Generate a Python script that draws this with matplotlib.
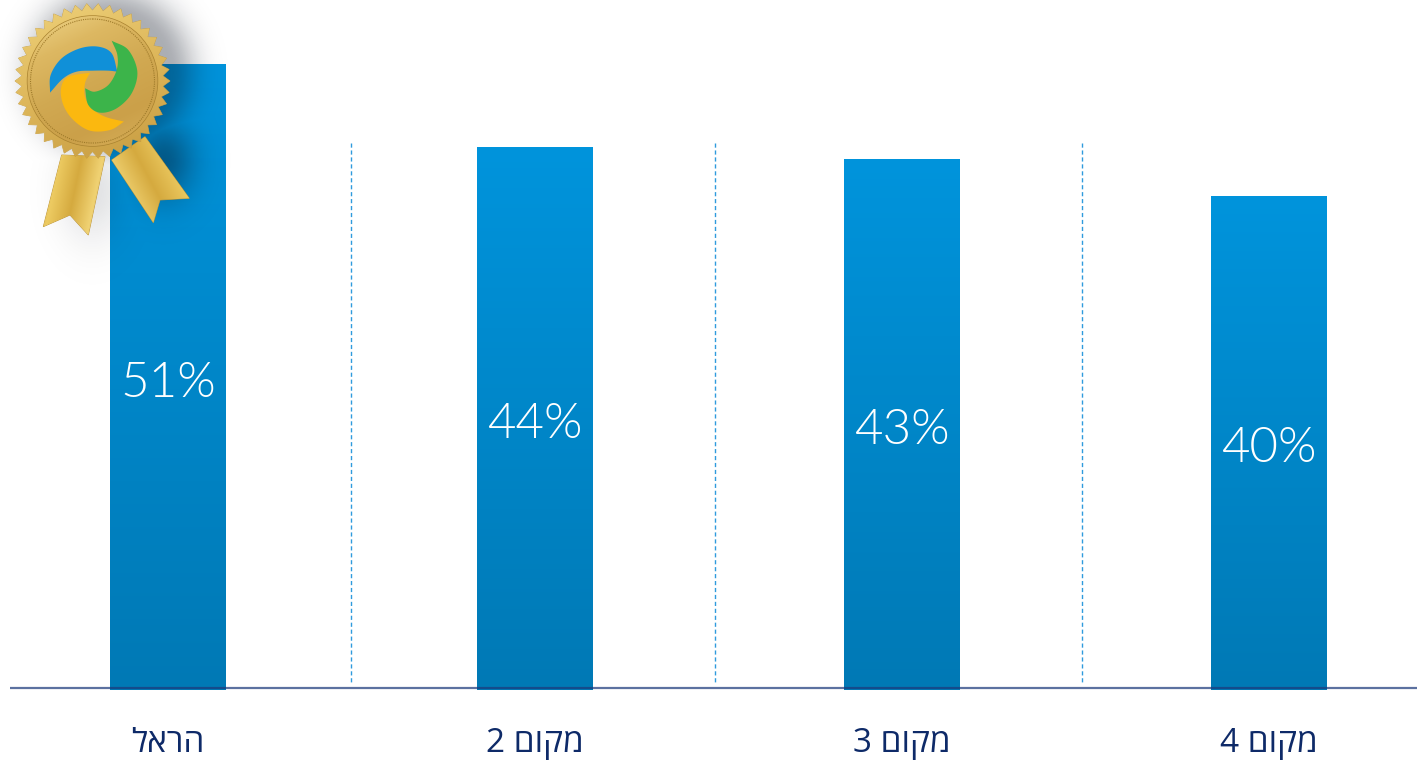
import numpy as np
import matplotlib
matplotlib.use("Agg")
import matplotlib.pyplot as plt
from matplotlib.colors import LinearSegmentedColormap
from matplotlib.patches import Circle, Polygon

categories = ["הראל", "מקום 2", "מקום 3", "מקום 4"]
values = [51.0, 44.25, 43.3, 40.3]
separators = [0.499, 1.491, 2.490]

W, H = 1417, 761
BASE_PX = 690
PX_PER_UNIT = 12.27


def visual(text):
    """matplotlib has no bidi: put Hebrew runs in visual order."""
    parts = text.split(" ")
    return " ".join(p[::-1] if not p.isdigit() else p for p in reversed(parts))


plt.rcParams["font.family"] = ["Open Sans", "Liberation Sans", "DejaVu Sans"]
fig = plt.figure(figsize=(W / 100, H / 100), dpi=100, facecolor="white")

ax = fig.add_axes([10 / W, (H - BASE_PX) / H, (W - 10) / W, BASE_PX / H])
for s in ("top", "left", "right", "bottom"):
    ax.spines[s].set_visible(False)
ax.patch.set_alpha(0)
ax.set_yticks([])
ax.set_xticks(range(len(categories)))
ax.set_xticklabels([visual(c) for c in categories], fontsize=24, color="#0E2A68",
                   family=["Open Sans", "Liberation Sans", "DejaVu Sans"])
ax.tick_params(axis="x", length=0, pad=27)

bar_cmap = LinearSegmentedColormap.from_list("bar", ["#0094DC", "#0079B5"])
grad = np.linspace(0, 1, 256).reshape(-1, 1)
bars = ax.bar(range(len(values)), values, width=116 / 367, color="none", zorder=2)
for bar, v in zip(bars, values):
    x0 = bar.get_x()
    im = ax.imshow(grad, cmap=bar_cmap, aspect="auto", zorder=2, interpolation="bilinear",
                   extent=(x0, x0 + bar.get_width(), 0, v))
    im.set_clip_path(bar)
    ax.text(bar.get_x() + bar.get_width() / 2, v / 2 - 0.5, f"{v:.0f}%", color="white",
            ha="center", va="center", fontsize=35.5, fontweight=300,
            family=["Lato", "DejaVu Sans"], zorder=5)
ax.set_xlim((10 - 168) / 367, (W - 168) / 367)
ax.set_ylim(0, BASE_PX / PX_PER_UNIT)

ax.vlines(separators, (BASE_PX - 143) / PX_PER_UNIT, (BASE_PX - 683) / PX_PER_UNIT,
          color="#2F9BDD", lw=1.0, linestyles=(0, (3, 2)), zorder=1)
ax.axhline(2 / PX_PER_UNIT, color="#1D3A7C", alpha=0.72, lw=1.6, zorder=4)

# ---------- medal decoration, in pixel coordinates ----------
ov = fig.add_axes([0, 0, 1, 1])
ov.axis("off")
ov.patch.set_alpha(0)

CX, CY = 92.5, 81.0
yy, xx = np.mgrid[0:330, 0:330]
d1 = np.hypot(xx - 110, yy - 72)
shadow = 0.34 * np.exp(-np.clip(d1 - 58, 0, None) ** 2 / (2 * 20.0 ** 2))
d2 = np.hypot((xx - 163), (yy - 160) / 1.25)
shadow = np.maximum(shadow, 0.42 * np.exp(-d2 ** 2 / (2 * 22.0 ** 2)))
d3 = np.hypot(xx - 92, (yy - 190) / 1.5)
shadow = np.maximum(shadow, 0.12 * np.exp(-d3 ** 2 / (2 * 24.0 ** 2)))
rgba = np.zeros(shadow.shape + (4,))
rgba[..., :3] = (0.03, 0.06, 0.12)
rgba[..., 3] = shadow
ov.imshow(rgba, extent=(0, 330, 330, 0), aspect="auto", zorder=1, interpolation="bilinear")

gold_cmap = LinearSegmentedColormap.from_list(
    "gold", ["#EFD68A", "#DDB862", "#D1A952", "#CBA049", "#D8B05A"])
ribbon_cmap = LinearSegmentedColormap.from_list(
    "ribbon", ["#C3982F", "#EDCB62", "#D5AA3F", "#F0D273", "#BF922D"])


def gold_fill(patch, cmap, box, angle, z):
    x0, x1, y0, y1 = box
    u, v = np.meshgrid(np.linspace(0, 1, 128), np.linspace(0, 1, 128))
    a = np.deg2rad(angle)
    g = u * np.cos(a) + v * np.sin(a)
    g = (g - g.min()) / (g.max() - g.min())
    ov.add_patch(patch)
    patch.set_zorder(z)
    im_ = ov.imshow(g, cmap=cmap, extent=(x0, x1, y1, y0), aspect="auto", zorder=z,
                    interpolation="bilinear")
    im_.set_clip_path(patch)


left_r = np.array([(185, 465), (315, 470), (265, 705), (210, 645), (130, 680)]) / 3
right_r = np.array([(335, 480), (435, 410), (568, 595), (480, 600), (460, 668)]) / 3
gold_fill(Polygon(left_r, closed=True, fc="none", ec="#B88E2E", lw=0.6),
          ribbon_cmap, (40, 108, 150, 238), 15, 3)
gold_fill(Polygon(right_r, closed=True, fc="none", ec="#B88E2E", lw=0.6),
          ribbon_cmap, (108, 192, 135, 225), 150, 3)

n_teeth = 42
ang = np.linspace(0, 2 * np.pi, 2 * n_teeth, endpoint=False)
rad = np.where(np.arange(2 * n_teeth) % 2 == 0, 77.5, 70.5)
star = np.c_[CX + rad * np.cos(ang), CY + rad * np.sin(ang)]
gold_fill(Polygon(star, closed=True, fc="none", ec="#C59C3E", lw=0.5),
          LinearSegmentedColormap.from_list("st", ["#EFD27A", "#DDB65A", "#C69B40"]),
          (14, 171, 3, 160), 70, 4)
gold_fill(Circle((CX, CY), 65, fc="none", ec="#A9822F", lw=1.0), gold_cmap,
          (27, 158, 15, 147), 65, 5)
ov.add_patch(Circle((CX, CY), 62, fc="none", ec="#9E7A2A", lw=0.8, ls=(0, (1, 1)), zorder=6))


def catmull(points, n=24):
    p = np.array(points, float)
    p = np.vstack([2 * p[0] - p[1], p, 2 * p[-1] - p[-2]])
    out = []
    for i in range(1, len(p) - 2):
        t = np.linspace(0, 1, n, endpoint=False)[:, None]
        out.append(0.5 * (2 * p[i] + (p[i + 1] - p[i - 1]) * t
                          + (2 * p[i - 1] - 5 * p[i] + 4 * p[i + 1] - p[i + 2]) * t ** 2
                          + (3 * p[i] - p[i - 1] - 3 * p[i + 1] + p[i + 2]) * t ** 3))
    return np.vstack(out + [p[-2][None]])


def swoosh(outer, inner, color):
    pts = np.vstack([catmull(outer), catmull(inner)]) / 3
    ov.add_patch(Polygon(pts, closed=True, fc=color, ec="none", zorder=7))


swoosh([(150, 278), (152, 225), (185, 175), (240, 145), (295, 140), (335, 160), (352, 215)],
       [(352, 215), (325, 212), (280, 212), (230, 215), (190, 235), (150, 278)], "#1090D8")
swoosh([(372, 365), (330, 390), (270, 392), (220, 360), (190, 315), (183, 265), (205, 230), (270, 218)],
       [(270, 218), (255, 250), (255, 290), (275, 325), (315, 350), (372, 365)], "#FBB80F")
swoosh([(335, 122), (385, 150), (412, 215), (395, 280), (350, 325), (300, 338), (265, 315), (255, 265)],
       [(255, 265), (285, 275), (325, 255), (350, 210), (352, 165), (335, 122)], "#3CB44A")

ov.set_xlim(0, W)
ov.set_ylim(H, 0)

fig.savefig("out.png", dpi=100)
